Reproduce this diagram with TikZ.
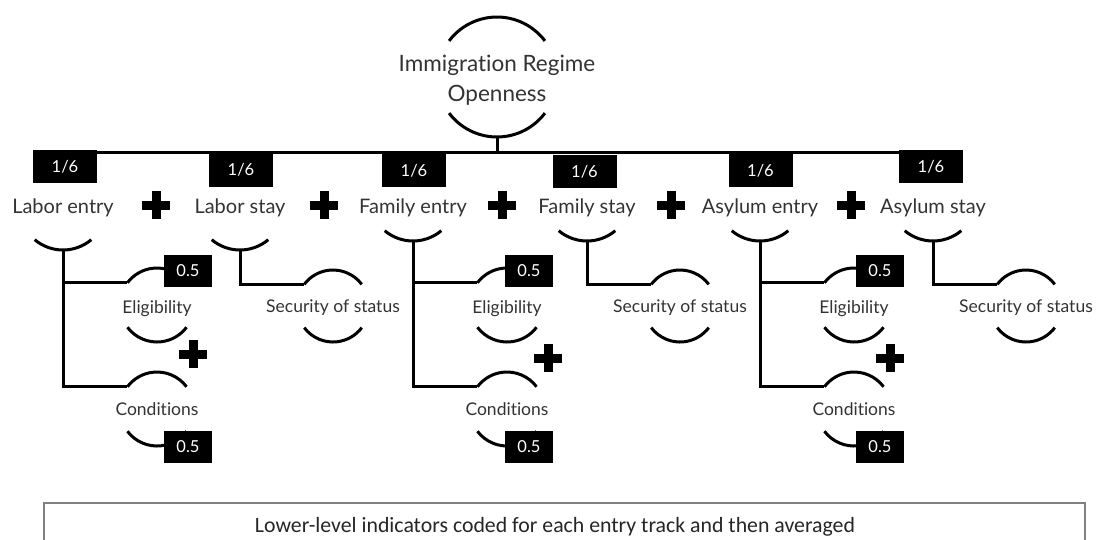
\documentclass[tikz,border=0pt]{standalone}
\usepackage{fontspec}
\setmainfont{Lato}[Ligatures=NoCommon]
\newfontfamily\notefont{Carlito}
\begin{document}
\begin{tikzpicture}[x=1pt,y=1pt,
  wire/.style={line width=3pt, line cap=butt},
  ring/.style={circle, draw=none, inner sep=0pt, outer sep=0pt},
  title/.style={font=\fontsize{22.5}{31}\selectfont, text=black!80, inner sep=0pt},
  trackname/.style={font=\fontsize{20}{24}\selectfont, text=black!80, inner sep=0pt},
  subname/.style={font=\fontsize{17.5}{21}\selectfont, text=black!80, inner sep=0pt},
  weight/.style={fill=black, text=white, font=\fontsize{16.5}{19}\selectfont,
    minimum width=64pt, minimum height=33pt, inner sep=0pt},
  halfweight/.style={weight, minimum width=48pt, minimum height=32pt},
  notetext/.style={font=\notefont\fontsize{21.8}{26}\selectfont, text=black!85, inner sep=0pt},
  boxline/.style={draw=black!50, line width=1.5pt},
  plussign/.pic={
    \fill (-14,-4.5) rectangle (14,4.5);
    \fill (-4.5,-14) rectangle (4.5,14);
  }
]
\useasboundingbox (0,0) rectangle (1096,-539);

% root indicator
\node[ring, minimum size=120pt] (root) at (497,-77) {};
\node[title, anchor=base] (rootA) at (497,-71) {Immigration Regime};
\node[title, anchor=base] (rootB) at (497,-101.7) {Openness};
\draw[wire] (root.37) arc[start angle=37, end angle=143, radius=60pt];
\draw[wire] (root.217) arc[start angle=217, end angle=323, radius=60pt];

% bus to the six entry tracks
\coordinate (busL) at (40,-152);
\coordinate (busR) at (956,-152);
\draw[wire] (busL) -- (busR);
\draw[wire] (root.south) -- (root.south |- busL);

% entry tracks with their lower cups
\foreach \nm/\x/\cy/\txt in {le/63/-206/Labor entry, ls/240/-206/Labor stay,
    fe/413/-197/Family entry, fs/587/-197/Family stay,
    ae/760/-197/Asylum entry, as/933/-197/Asylum stay}{
  \node[trackname, anchor=base] (\nm) at (\x,-213) {\txt};
  \node[ring, minimum size=88pt] (\nm c) at (\x,\cy) {};
  \draw[wire] (\nm c.230) arc[start angle=230, end angle=310, radius=44pt];
}

% entry tracks: eligibility and conditions
\foreach \nm/\s in {le/63, fe/413, ae/760}{
  \node[ring, minimum size=74pt] (\nm elig) at (\s+94,-305) {};
  \node[ring, minimum size=74pt] (\nm cond) at (\s+94,-409) {};
  \node[subname, anchor=base] (\nm eligt) at (\s+94,-313) {Eligibility};
  \node[subname, anchor=base] (\nm condt) at (\s+94,-415) {Conditions};
  \draw[wire] (\nm elig.37) arc[start angle=37, end angle=143, radius=37pt];
  \draw[wire] (\nm elig.217) arc[start angle=217, end angle=323, radius=37pt];
  \draw[wire] (\nm cond.37) arc[start angle=37, end angle=143, radius=37pt];
  \draw[wire] (\nm cond.217) arc[start angle=217, end angle=323, radius=37pt];
  \draw[wire] (\nm c.south) |- (\nm cond.143);
  \draw[wire] (\nm c.south |- \nm elig.143) -- (\nm elig.143);
}

% stay tracks: security of status
\foreach \nm/\s in {ls/240, fs/587, as/933}{
  \node[ring, minimum size=72pt] (\nm sec) at (\s+93,-306) {};
  \node[subname, anchor=base] (\nm sect) at (\s+93,-312) {Security of status};
  \draw[wire] (\nm sec.37) arc[start angle=37, end angle=143, radius=36pt];
  \draw[wire] (\nm sec.217) arc[start angle=217, end angle=323, radius=36pt];
  \draw[wire] (\nm c.south) |- (\nm sec.143);
}

% weights of the six tracks
\node[weight] (w1) at (65,-166.5) {1/6};
\node[weight] (w2) at (241,-170) {1/6};
\node[weight] (w3) at (414,-170.5) {1/6};
\node[weight] (w4) at (584.5,-171.5) {1/6};
\node[weight] (w5) at (760.5,-170.5) {1/6};
\node[weight] (w6) at (931,-166.5) {1/6};

% weights of eligibility and conditions
\foreach \nm/\bx in {le/188, fe/529, ae/880}{
  \node[halfweight] (\nm we) at (\bx,-271) {0.5};
  \node[halfweight] (\nm wc) at (\bx,-447) {0.5};
}

% addition signs
\foreach \px/\py in {156/-205, 324/-205, 502/-205, 671/-205, 851/-205,
    193/-354, 548/-358, 890/-358}{
  \pic at (\px,\py) {plussign};
}

% note along the bottom
\node[notetext, anchor=base] (note) at (555,-532)
  {Lower-level indicators coded for each entry track and then averaged};
\draw[boxline] (44,-545) |- (1085,-503) -- (1085,-545);
\end{tikzpicture}
\end{document}
